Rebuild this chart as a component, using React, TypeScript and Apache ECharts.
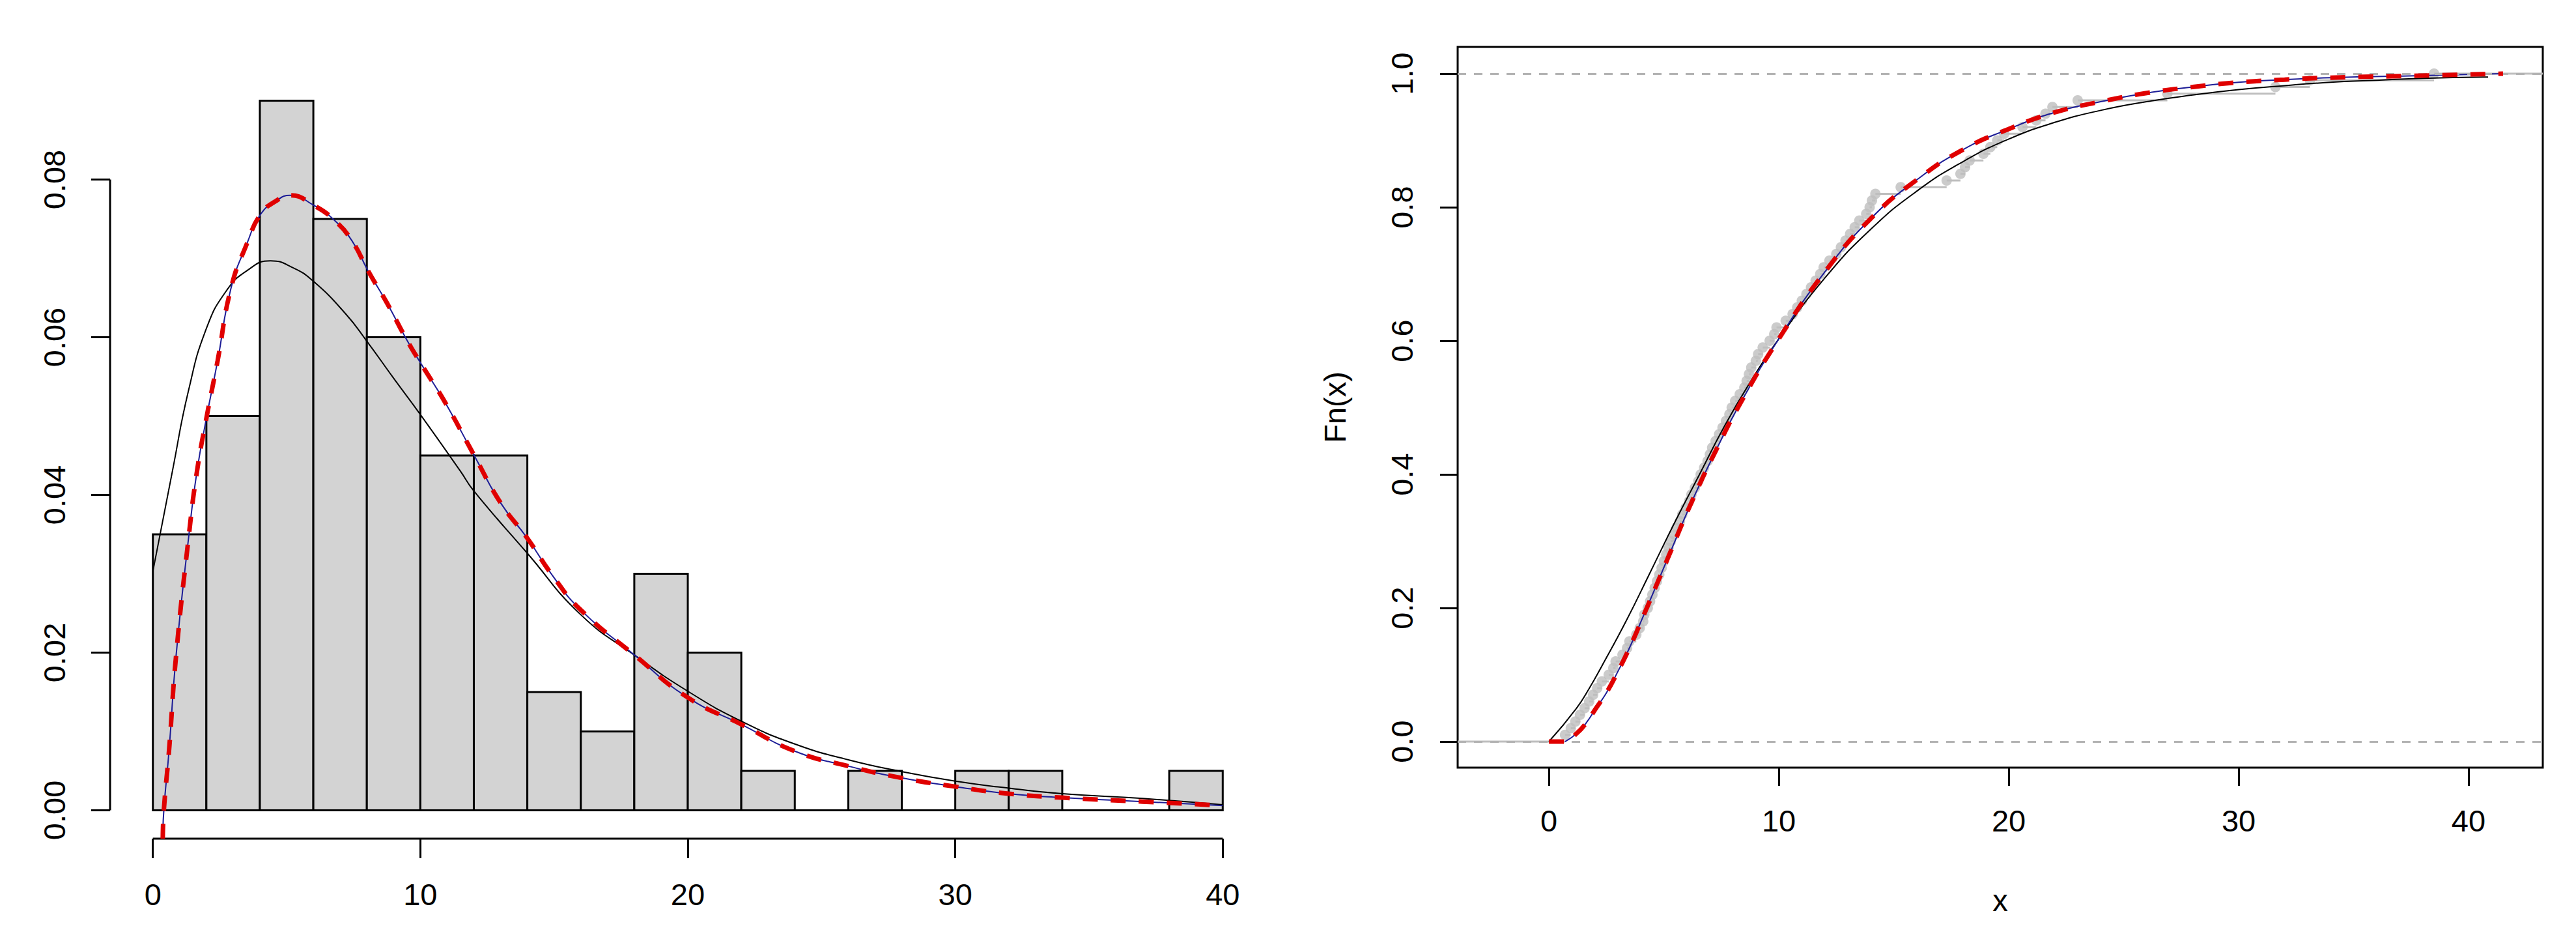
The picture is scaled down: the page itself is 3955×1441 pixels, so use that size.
import React, { useEffect, useRef } from "react";
import * as echarts from "echarts";

// ---------- data ----------
const histBreaks = [0, 2, 4, 6, 8, 10, 12, 14, 16, 18, 20, 22, 24, 26, 28, 30, 32, 34, 36, 38, 40];
const histDensity = [0.035, 0.05, 0.09, 0.075, 0.06, 0.045, 0.045, 0.015, 0.01, 0.03, 0.02, 0.005, 0, 0.005, 0, 0.005, 0.005, 0, 0, 0.005];

const densBlackX = [0, 0.73, 1.33, 2.0, 2.75, 3.5, 4.4, 5.25, 6.0, 7.2, 8.0, 9.0, 10.0, 11.5, 12.0, 14.0, 16.0, 18.0, 20.0, 22.0, 24.0, 26.0, 28.0, 30.0, 32.0, 34.0, 37.0, 40.0];
const densBlackY = [0.0303, 0.043, 0.0532, 0.0611, 0.0659, 0.0684, 0.0697, 0.0688, 0.0671, 0.063, 0.0595, 0.0548, 0.0502, 0.043, 0.0405, 0.0326, 0.0248, 0.0197, 0.0151, 0.0113, 0.0084, 0.0064, 0.0049, 0.0037, 0.0028, 0.0021, 0.0015, 0.0007];

const densFitX = [0.37, 0.41, 0.61, 0.86, 1.35, 1.65, 2.0, 2.42, 2.92, 3.52, 4.03, 4.61, 5.13, 6.03, 6.8, 7.45, 8.05, 8.76, 9.52, 10.07, 10.95, 12.03, 13.0, 14.0, 15.0, 16.0, 18.0, 20.0, 22.0, 24.0, 26.0, 28.0, 30.0, 32.0, 34.0, 37.0, 40.0];
const densFitY = [-0.0036, 0, 0.0078, 0.0193, 0.035, 0.043, 0.0497, 0.057, 0.0662, 0.0719, 0.0756, 0.0773, 0.078, 0.0767, 0.0748, 0.0722, 0.0684, 0.0643, 0.0595, 0.0564, 0.0516, 0.0449, 0.039, 0.0345, 0.0295, 0.0254, 0.0197, 0.0143, 0.0109, 0.0075, 0.0056, 0.0041, 0.003, 0.0021, 0.0016, 0.0011, 0.0006];

const sampleX = [
  0.7, 0.95, 1.15, 1.35, 1.55, 1.75, 1.92,
  2.1, 2.3, 2.6, 2.8, 2.9, 3.2, 3.4, 3.5, 3.8, 3.95,
  4.1, 4.15, 4.3, 4.4, 4.5, 4.6, 4.7, 4.8, 4.9, 5.0, 5.1, 5.2, 5.3, 5.45, 5.55, 5.7, 5.8, 5.95,
  6.1, 6.2, 6.35, 6.5, 6.6, 6.75, 6.9, 7.0, 7.1, 7.25, 7.4, 7.55, 7.7, 7.85, 7.95,
  8.1, 8.3, 8.5, 8.6, 8.7, 8.8, 9.0, 9.1, 9.3, 9.6, 9.8, 9.9,
  10.3, 10.6, 10.8, 11.0, 11.2, 11.4, 11.6, 11.8, 11.95,
  12.2, 12.5, 12.7, 12.9, 13.1, 13.3, 13.5, 13.8, 13.95,
  14.05, 14.2, 15.3,
  17.3, 17.9,
  18.1, 18.3, 18.9, 19.2, 19.5, 19.8,
  20.6, 21.2, 21.6, 21.9,
  23.0, 26.9, 31.6, 33.1, 38.5,
];

const cdfBlackX = [0, 1.2, 1.76, 2.3, 3.35, 4.4, 5.5, 6.55, 7.6, 8.7, 10, 12, 14, 16, 18, 20, 22, 24, 26, 28, 30, 32, 34, 36, 38, 40.85];
const cdfBlackY = [0, 0.05, 0.08, 0.113, 0.18, 0.253, 0.33, 0.4, 0.47, 0.535, 0.603, 0.694, 0.767, 0.824, 0.868, 0.902, 0.927, 0.945, 0.958, 0.968, 0.976, 0.982, 0.987, 0.99, 0.993, 0.995];

const cdfFitX = [0.7, 1.2, 1.6, 2.05, 2.5, 3.0, 3.5, 4.07, 5.14, 6.2, 7.28, 8.35, 10, 12, 14, 16, 18, 20, 22, 24, 26, 28, 30, 32, 34, 38, 41.5];
const cdfFitY = [0, 0.012, 0.027, 0.05, 0.073, 0.105, 0.14, 0.185, 0.272, 0.358, 0.437, 0.508, 0.603, 0.703, 0.783, 0.841, 0.886, 0.917, 0.942, 0.958, 0.971, 0.98, 0.987, 0.991, 0.994, 0.997, 1.0];

const xTicks = [0, 10, 20, 30, 40];
const yTicksLeft = [0, 0.02, 0.04, 0.06, 0.08];
const yTicksRight = [0, 0.2, 0.4, 0.6, 0.8, 1.0];

// axis ranges (R style 4% extension)
const leftXRange = [-1.6, 41.6];
const leftYRange = [-0.0036, 0.0936];
const rightXRange = [-3.97, 43.23];
const rightYRange = [-0.039, 1.04];

const FONT = "'Liberation Sans', Arial, sans-serif";
const FS = 47;

const zip = (xs: number[], ys: number[]) => xs.map((x, i) => [x, ys[i]]);

export default function App() {
  const ref = useRef<HTMLDivElement>(null);

  useEffect(() => {
    document.body.style.margin = "0";
    const chart = echarts.init(ref.current!, null, { renderer: "svg" });

    const n = sampleX.length;
    const ecdfPoints = sampleX.map((x, i) => [x, (i + 1) / n]);
    const ecdfSteps: number[][] = [[rightXRange[0], sampleX[0], 0]];
    sampleX.forEach((x, i) => {
      ecdfSteps.push([x, i + 1 < n ? sampleX[i + 1] : rightXRange[1], (i + 1) / n]);
    });

    const tickStyle = { color: "#000", width: 3 };
    const labelStyle = { fontSize: FS, color: "#000", fontFamily: FONT };
    const noLine = { show: false, onZero: false };
    const curve = { showSymbol: false, smooth: 0.5 };
    const redDash = { color: "#E00000", width: 7, type: [23, 20] };

    const option: any = {
      animation: false,
      backgroundColor: "#fff",
      grid: [
        { left: 169, top: 111, width: 1774, height: 1176, show: false },
        {
          left: 2238, top: 72, width: 1666, height: 1106, show: true,
          borderColor: "#000", borderWidth: 3, backgroundColor: "transparent",
        },
      ],
      xAxis: [
        {
          type: "value", gridIndex: 0, min: leftXRange[0], max: leftXRange[1],
          axisLine: noLine, splitLine: { show: false },
          axisTick: { show: true, customValues: xTicks, length: 30, lineStyle: tickStyle },
          axisLabel: { customValues: xTicks, margin: 62, ...labelStyle },
        },
        {
          type: "value", gridIndex: 1, min: rightXRange[0], max: rightXRange[1],
          axisLine: noLine, splitLine: { show: false },
          axisTick: { show: true, customValues: xTicks, length: 28, lineStyle: tickStyle },
          axisLabel: { customValues: xTicks, margin: 58, ...labelStyle },
          name: "x", nameLocation: "middle", nameGap: 180,
          nameTextStyle: { ...labelStyle },
        },
      ],
      yAxis: [
        {
          type: "value", gridIndex: 0, min: leftYRange[0], max: leftYRange[1],
          axisLine: noLine, splitLine: { show: false },
          axisTick: { show: true, customValues: yTicksLeft, length: 29, lineStyle: tickStyle },
          axisLabel: {
            customValues: yTicksLeft, rotate: 90, margin: 62, ...labelStyle,
            formatter: (v: number) => v.toFixed(2),
          },
        },
        {
          type: "value", gridIndex: 1, min: rightYRange[0], max: rightYRange[1],
          axisLine: noLine, splitLine: { show: false },
          axisTick: { show: true, customValues: yTicksRight, length: 27, lineStyle: tickStyle },
          axisLabel: {
            customValues: yTicksRight, rotate: 90, margin: 62, ...labelStyle,
            formatter: (v: number) => v.toFixed(1),
          },
          name: "Fn(x)", nameLocation: "middle", nameGap: 165, nameRotate: 90,
          nameTextStyle: { ...labelStyle },
        },
      ],
      series: [
        {
          type: "custom", xAxisIndex: 0, yAxisIndex: 0,
          data: histDensity.map((d, i) => [histBreaks[i], histBreaks[i + 1], d]),
          renderItem: (params: any, api: any) => {
            const p0 = api.coord([api.value(0), 0]);
            const p1 = api.coord([api.value(1), api.value(2)]);
            return {
              type: "rect",
              shape: { x: p0[0], y: p1[1], width: p1[0] - p0[0], height: p0[1] - p1[1] },
              style: { fill: "#D3D3D3", stroke: "#000", lineWidth: 3 },
            };
          },
          z: 1,
        },
        {
          type: "line", xAxisIndex: 0, yAxisIndex: 0, clip: false,
          data: [[xTicks[0], leftYRange[0]], [xTicks[xTicks.length - 1], leftYRange[0]]],
          showSymbol: false, lineStyle: { color: "#000", width: 3 }, z: 2,
        },
        {
          type: "line", xAxisIndex: 0, yAxisIndex: 0, clip: false,
          data: [[leftXRange[0], yTicksLeft[0]], [leftXRange[0], yTicksLeft[yTicksLeft.length - 1]]],
          showSymbol: false, lineStyle: { color: "#000", width: 3 }, z: 2,
        },
        {
          type: "line", xAxisIndex: 0, yAxisIndex: 0, data: zip(densBlackX, densBlackY),
          ...curve, lineStyle: { color: "#000", width: 2 }, z: 3,
        },
        {
          type: "line", xAxisIndex: 0, yAxisIndex: 0, data: zip(densFitX, densFitY),
          ...curve, lineStyle: { color: "#1C1C96", width: 2 }, z: 4,
        },
        {
          type: "line", xAxisIndex: 0, yAxisIndex: 0, data: zip(densFitX, densFitY),
          ...curve, lineStyle: redDash, z: 5,
        },
        // ECDF steps
        {
          type: "custom", xAxisIndex: 1, yAxisIndex: 1, data: ecdfSteps,
          renderItem: (params: any, api: any) => {
            const p0 = api.coord([api.value(0), api.value(2)]);
            const p1 = api.coord([api.value(1), api.value(2)]);
            return {
              type: "line",
              shape: { x1: p0[0], y1: p0[1], x2: p1[0], y2: p1[1] },
              style: { stroke: "#BEBEBE", lineWidth: 3 },
            };
          },
          z: 1,
        },
        {
          type: "scatter", xAxisIndex: 1, yAxisIndex: 1, data: ecdfPoints,
          symbol: "circle", symbolSize: 16, itemStyle: { color: "#BEBEBE" }, z: 2,
          markLine: {
            silent: true, symbol: "none", label: { show: false },
            lineStyle: { color: "#B3B3B3", width: 3, type: [13, 12] },
            data: [{ yAxis: 0 }, { yAxis: 1 }],
          },
        },
        {
          type: "line", xAxisIndex: 1, yAxisIndex: 1, data: zip(cdfBlackX, cdfBlackY),
          ...curve, lineStyle: { color: "#000", width: 2 }, z: 3,
        },
        {
          type: "line", xAxisIndex: 1, yAxisIndex: 1, data: zip(cdfFitX, cdfFitY),
          ...curve, lineStyle: { color: "#1C1C96", width: 2 }, z: 4,
        },
        {
          type: "line", xAxisIndex: 1, yAxisIndex: 1, data: [[0, 0], ...zip(cdfFitX, cdfFitY)],
          ...curve, lineStyle: redDash, z: 5,
        },
      ],
    };

    chart.setOption(option);
    return () => chart.dispose();
  }, []);

  return <div ref={ref} style={{ width: 3955, height: 1441 }} />;
}
